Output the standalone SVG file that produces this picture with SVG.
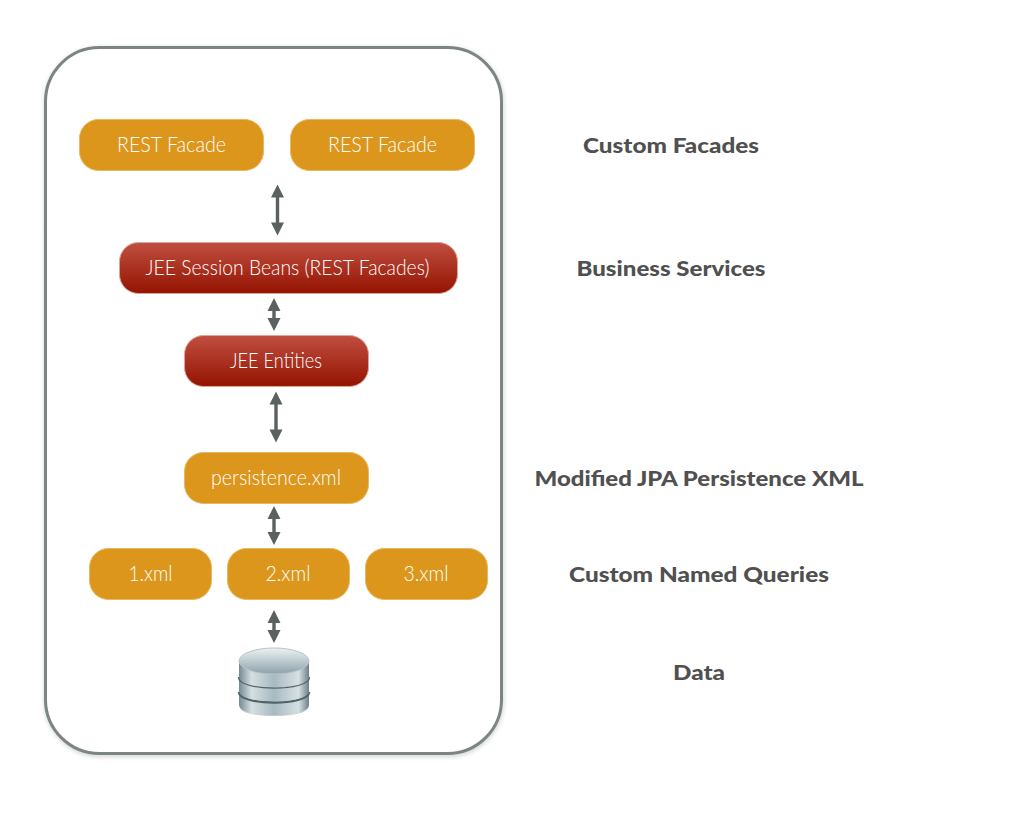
<svg xmlns="http://www.w3.org/2000/svg" width="1024" height="838" viewBox="0 0 1024 838">
<style>
.o{fill:#db961b;stroke:#e9b760;stroke-width:1}
.r{fill:url(#red);stroke:#e0a497;stroke-width:1}
.t{font-family:Lato,"Open Sans","Liberation Sans",sans-serif;font-weight:300;font-size:21px;fill:#fff;text-anchor:middle}
.l{font-family:Lato,"Open Sans","Liberation Sans",sans-serif;font-weight:900;font-size:21px;fill:#505050;text-anchor:middle}
.a{fill:#5a6161}
</style>
<defs>
<linearGradient id="red" x1="0" y1="0" x2="0" y2="1"><stop offset="0" stop-color="#c04f40"/><stop offset="1" stop-color="#941301"/></linearGradient>
<linearGradient id="top" x1="0" y1="0" x2="0" y2="1"><stop offset="0" stop-color="#eef2f3"/><stop offset=".5" stop-color="#bccacf"/><stop offset="1" stop-color="#8ea2aa"/></linearGradient>
<linearGradient id="cyl" x1="0" y1="0" x2="1" y2="0"><stop offset="0" stop-color="#77898f"/><stop offset=".18" stop-color="#d4dfe2"/><stop offset=".5" stop-color="#a8bac0"/><stop offset=".85" stop-color="#d6e0e3"/><stop offset="1" stop-color="#6e8086"/></linearGradient>
<filter id="sh" x="-5%" y="-5%" width="110%" height="110%"><feGaussianBlur stdDeviation="2"/></filter>
</defs>
<rect width="1024" height="838" fill="#fff"/>
<g id="container">
<rect x="46" y="49" width="456" height="706" rx="54" fill="none" stroke="#c4c8c8" stroke-width="3" filter="url(#sh)"/>
<rect x="45.500" y="47.500" width="456" height="706" rx="54" fill="#fff" stroke="#7c8484" stroke-width="3"/>
</g>
<g id="connectors">
<path class="a" d="M277.500 184.500l6.500 13h-4.800v25h4.800l-6.500 13-6.500-13h4.800v-25h-4.800z"/>
<path class="a" d="M274 298l6.500 13h-4.800v7h4.800l-6.500 13-6.500-13h4.800v-7h-4.800z"/>
<path class="a" d="M276 391.500l6.500 13h-4.800v25h4.800l-6.500 13-6.500-13h4.800v-25h-4.800z"/>
<path class="a" d="M274 506l6.500 13h-4.800v13h4.800l-6.500 13-6.500-13h4.800v-13h-4.800z"/>
<path class="a" d="M274 610l6.500 13h-4.800v7h4.800l-6.500 13-6.500-13h4.800v-7h-4.800z"/>
</g>
<g id="facade1"><rect class="o" x="79.500" y="119.500" width="184" height="51" rx="19"/><text class="t" x="171.500" y="151.500" textLength="109" lengthAdjust="spacingAndGlyphs">REST Facade</text></g>
<g id="facade2"><rect class="o" x="290.500" y="119.500" width="184" height="51" rx="19"/><text class="t" x="382.500" y="151.500" textLength="109" lengthAdjust="spacingAndGlyphs">REST Facade</text></g>
<g id="session"><rect class="r" x="119.500" y="242.500" width="338" height="51" rx="19"/><text class="t" x="287.500" y="275" textLength="284" lengthAdjust="spacingAndGlyphs">JEE Session Beans (REST Facades)</text></g>
<g id="entities"><rect class="r" x="184.500" y="335.500" width="184" height="51" rx="19"/><text class="t" x="276" y="368" textLength="92" lengthAdjust="spacingAndGlyphs">JEE Entities</text></g>
<g id="persistence"><rect class="o" x="184.500" y="452.500" width="184" height="51" rx="19"/><text class="t" x="276" y="484.500" textLength="130" lengthAdjust="spacingAndGlyphs">persistence.xml</text></g>
<g id="x1"><rect class="o" x="89.500" y="548.500" width="122" height="51" rx="19"/><text class="t" x="150.500" y="580.500" textLength="44" lengthAdjust="spacingAndGlyphs">1.xml</text></g>
<g id="x2"><rect class="o" x="227.500" y="548.500" width="122" height="51" rx="19"/><text class="t" x="288" y="580.500" textLength="45" lengthAdjust="spacingAndGlyphs">2.xml</text></g>
<g id="x3"><rect class="o" x="365.500" y="548.500" width="122" height="51" rx="19"/><text class="t" x="426" y="580.500" textLength="45" lengthAdjust="spacingAndGlyphs">3.xml</text></g>
<g id="database">
<ellipse cx="274" cy="708" rx="34" ry="8" fill="#aab4b8" opacity=".6"/>
<path d="M239 689v16c0 14 70 14 70 0v-16z" fill="url(#cyl)"/>
<path d="M239 692c0 14 70 14 70 0" fill="none" stroke="#4f636b" stroke-width="2.500"/>
<path d="M239 674v17c0 14 70 14 70 0v-17z" fill="url(#cyl)"/>
<path d="M239 677c0 14 70 14 70 0" fill="none" stroke="#4f636b" stroke-width="2.500"/>
<path d="M239 661v16c0 14 70 14 70 0v-16z" fill="url(#cyl)"/>
<ellipse cx="274" cy="661" rx="35" ry="13" fill="url(#top)" stroke="#b6c4c9" stroke-width="1"/>
</g>
<g id="labels">
<text class="l" x="671" y="153" textLength="176" lengthAdjust="spacingAndGlyphs">Custom Facades</text>
<text class="l" x="671" y="276" textLength="189" lengthAdjust="spacingAndGlyphs">Business Services</text>
<text class="l" x="699" y="485.500" textLength="329" lengthAdjust="spacingAndGlyphs">Modified JPA Persistence XML</text>
<text class="l" x="699" y="582" textLength="260" lengthAdjust="spacingAndGlyphs">Custom Named Queries</text>
<text class="l" x="699" y="679.500" textLength="52" lengthAdjust="spacingAndGlyphs">Data</text>
</g>
</svg>
